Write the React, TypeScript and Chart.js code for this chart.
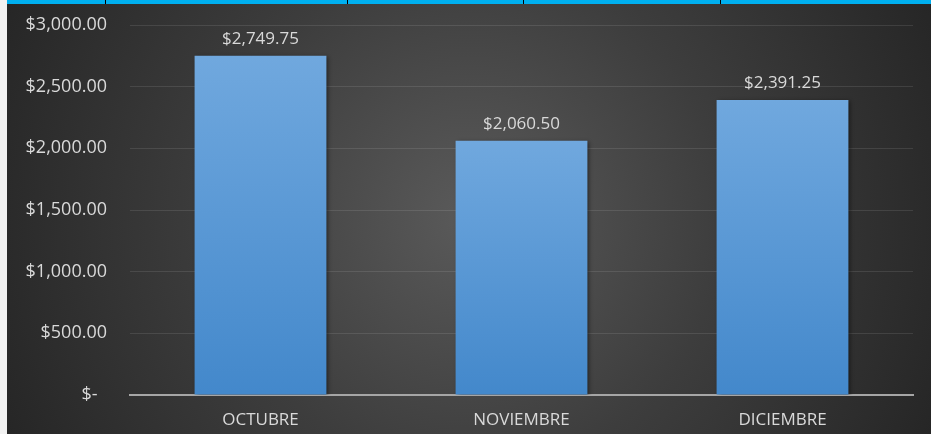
import React, { useEffect, useRef } from "react";
import { Chart, registerables } from "chart.js";

Chart.register(...registerables);

const categories: string[] = ["OCTUBRE", "NOVIEMBRE", "DICIEMBRE"];
const totals: number[] = [2749.75, 2060.5, 2391.25];
const yTickValues: number[] = [0, 500, 1000, 1500, 2000, 2500, 3000];
const yTickLabels: string[] = ["$-  ", "$500.00", "$1,000.00", "$1,500.00", "$2,000.00", "$2,500.00", "$3,000.00"];

const FONT = "'Open Sans', 'DejaVu Sans', sans-serif";
const TEXT = "#d9d9d9";

const money = (v: number) =>
  "$" + v.toLocaleString("en-US", { minimumFractionDigits: 2, maximumFractionDigits: 2 });

const dataLabels = {
  id: "dataLabels",
  afterDatasetsDraw(chart: any) {
    const ctx = chart.ctx;
    const meta = chart.getDatasetMeta(0);
    ctx.save();
    ctx.font = `17px ${FONT}`;
    ctx.fillStyle = TEXT;
    ctx.textAlign = "center";
    ctx.textBaseline = "middle";
    meta.data.forEach((el: any, i: number) => {
      ctx.fillText(money(totals[i]), el.x, el.y - 17);
    });
    ctx.restore();
  },
};

const barShadow = {
  id: "barShadow",
  beforeDatasetsDraw(chart: any) {
    const ctx = chart.ctx;
    ctx.save();
    ctx.shadowColor = "rgba(0,0,0,0.45)";
    ctx.shadowBlur = 4;
    ctx.shadowOffsetX = 2;
    ctx.shadowOffsetY = 1;
  },
  afterDatasetsDraw(chart: any) {
    chart.ctx.restore();
  },
};

export default function App() {
  const ref = useRef<HTMLCanvasElement | null>(null);

  useEffect(() => {
    if (!ref.current) return;
    const chart = new Chart(ref.current, {
      type: "bar",
      data: {
        labels: categories,
        datasets: [
          {
            data: totals,
            backgroundColor: (c: any) => {
              const chartObj = c.chart;
              const y = chartObj.scales?.y;
              if (!y || c.raw == null) return "#5b9bd5";
              const top = y.getPixelForValue(c.raw);
              const bottom = y.getPixelForValue(0);
              if (!isFinite(top) || !isFinite(bottom) || top === bottom) return "#5b9bd5";
              const g = chartObj.ctx.createLinearGradient(0, top, 0, bottom);
              g.addColorStop(0, "#70a8de");
              g.addColorStop(1, "#4388cb");
              return g;
            },
            borderWidth: 0,
            barPercentage: 0.505,
            categoryPercentage: 1,
          },
        ],
      },
      options: {
        animation: false,
        responsive: false,
        maintainAspectRatio: false,
        layout: { padding: { top: 21, right: 18, left: 0, bottom: 0 } },
        plugins: {
          legend: { display: false },
          tooltip: { enabled: false },
        },
        scales: {
          x: {
            grid: { display: false, drawTicks: false },
            border: { display: true, color: "#a6a6a6", width: 2 },
            ticks: {
              color: TEXT,
              font: { family: FONT, size: 17 },
              padding: 15,
            },
            afterFit: (s: any) => {
              s.height = 39;
              s.paddingLeft = 0;
              s.paddingRight = 0;
            },
          },
          y: {
            min: 0,
            max: 3000,
            afterBuildTicks: (s: any) => {
              s.ticks = yTickValues.map((v) => ({ value: v }));
            },
            grid: {
              color: (c: any) => (c.tick && c.tick.value === 0 ? "rgba(0,0,0,0)" : "rgba(255,255,255,0.1)"),
              lineWidth: 1,
              drawTicks: false,
            },
            border: { display: false },
            ticks: {
              color: TEXT,
              font: { family: FONT, size: 18 },
              padding: 23,
              callback: (v: any) => {
                const idx = yTickValues.indexOf(Number(v));
                return idx >= 0 ? yTickLabels[idx] : "";
              },
            },
            afterFit: (s: any) => {
              s.width = 123;
              s.paddingTop = 0;
              s.paddingBottom = 0;
            },
          },
        },
      },
      plugins: [barShadow, dataLabels],
    });
    return () => chart.destroy();
  }, []);

  return (
    <div style={{ position: "fixed", left: 0, top: 0, width: 931, height: 434, overflow: "hidden", background: "#f2f2f2" }}>
      <div
        style={{
          position: "absolute",
          left: 7,
          top: 0,
          width: 924,
          height: 434,
          background: "radial-gradient(circle farthest-corner at 50% 50%, #5a5a5a 0%, #3d3d3d 50%, #262626 100%)",
        }}
      />
      <div style={{ position: "absolute", left: 7, top: 0, width: 924, height: 4, background: "#00b0f0" }} />
      {[105, 347, 523, 720].map((x) => (
        <div key={x} style={{ position: "absolute", left: x, top: 0, width: 1, height: 4, background: "#000" }} />
      ))}
      <canvas ref={ref} width={924} height={430} style={{ position: "absolute", left: 7, top: 4, display: "block" }} />
    </div>
  );
}
